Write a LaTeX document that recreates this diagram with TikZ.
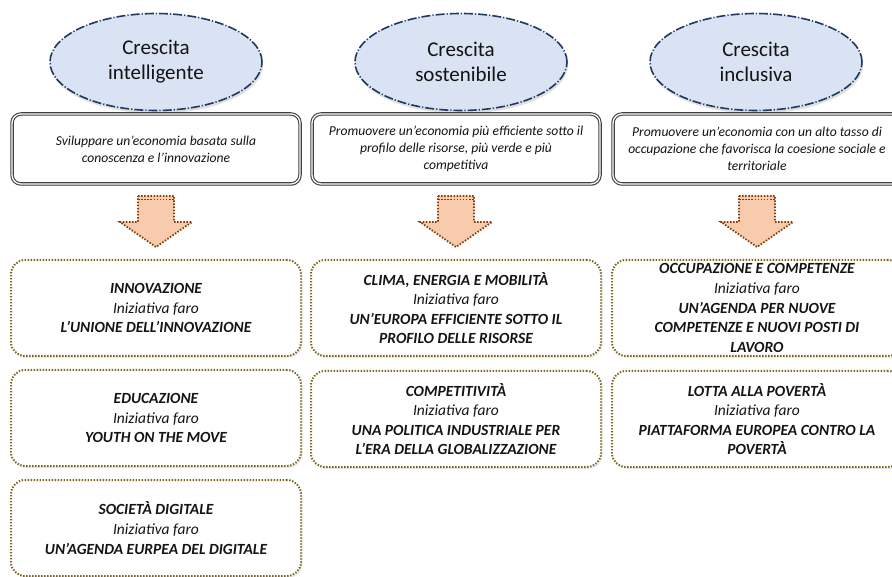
\documentclass[tikz,border=0pt]{standalone}
\usepackage{fontspec}
\setmainfont{Carlito}
\usetikzlibrary{shapes.geometric,shadows}
\definecolor{navy}{RGB}{31,56,100}
\definecolor{ellblue}{RGB}{218,227,243}
\definecolor{olive}{RGB}{128,100,30}
\definecolor{peach}{RGB}{248,203,173}
\definecolor{rust}{RGB}{132,60,12}
\definecolor{txt}{RGB}{20,20,20}
\begin{document}
\begin{tikzpicture}[x=1pt,y=-1pt,
  goal/.style={ellipse, draw=navy, fill=ellblue, line width=1.6pt,
    dash pattern=on 9pt off 2pt on 1.2pt off 2pt,
    minimum width=212pt, minimum height=97pt, inner sep=0pt, align=center,
    text=txt, font=\fontsize{21}{25}\selectfont,
    drop shadow={opacity=0.25,shadow xshift=1pt,shadow yshift=-3pt}},
  desc/.style={rectangle, rounded corners=9pt, draw=black!75, double=white,
    double distance=1.3pt, line width=1.1pt, fill=white,
    minimum width=288pt, minimum height=70pt, inner sep=0pt, align=center,
    text=txt, font=\fontsize{13.6}{17}\selectfont\itshape,
    drop shadow={opacity=0.2,shadow xshift=1.5pt,shadow yshift=-2pt}},
  ini/.style={rectangle, rounded corners=14pt, draw=olive, line width=2pt,
    dash pattern=on 1.4pt off 1.6pt, fill=white,
    minimum width=290pt, minimum height=96pt, inner sep=0pt, align=center,
    text=txt, font=\fontsize{15.5}{19.6}\selectfont,
    drop shadow={opacity=0.15,shadow xshift=1.5pt,shadow yshift=-2pt}},
  bigarrow/.style={fill=peach, draw=rust, line width=1.8pt,
    dash pattern=on 1.5pt off 1.6pt, line join=miter},
]
\useasboundingbox[fill=white] (0,0) rectangle (892,577);

% goals
\node[goal] (g1) at (156,62) {Crescita\\intelligente};
\node[goal] (g2) at (461,62) {Crescita\\sostenibile};
\node[goal] (g3) at (756,62) {Crescita\\inclusiva};

% descriptions
\node[desc] (d1) at (156,149) {Sviluppare un’economia basata sulla\\conoscenza e l’innovazione};
\node[desc] (d2) at (456,149) {Promuovere un’economia più efficiente sotto il\\profilo delle risorse, più verde e più\\competitiva};
\node[desc] (d3) at (757,149) {Promuovere un’economia con un alto tasso di\\occupazione che favorisca la coesione sociale e\\territoriale};

% block arrows
\foreach \cx/\nm in {156/a1,456/a2,757/a3}{
  \coordinate (\nm) at (\cx,196);
  \draw[bigarrow] (\cx-18,196) -- (\cx+18,196) -- (\cx+18,222) -- (\cx+36,222)
    -- (\cx,247) -- (\cx-36,222) -- (\cx-18,222) -- cycle;
  \draw[rust, line width=1.8pt, dash pattern=on 1.5pt off 1.6pt] (\cx-18,199.5) -- (\cx+18,199.5);
}

% flagship initiatives
\node[ini] (i11) at (156,308) {{\bfseries\itshape INNOVAZIONE}\\{\itshape Iniziativa faro}\\{\bfseries\itshape L’UNIONE DELL’INNOVAZIONE}};
\node[ini] (i12) at (156,418) {{\bfseries\itshape EDUCAZIONE}\\{\itshape Iniziativa faro}\\{\bfseries\itshape YOUTH ON THE MOVE}};
\node[ini] (i13) at (156,528) {{\bfseries\itshape SOCIETÀ DIGITALE}\\{\itshape Iniziativa faro}\\{\bfseries\itshape UN’AGENDA EURPEA DEL DIGITALE}};

\node[ini] (i21) at (456,308) {{\bfseries\itshape CLIMA, ENERGIA E MOBILITÀ}\\{\itshape Iniziativa faro}\\{\bfseries\itshape UN’EUROPA EFFICIENTE SOTTO IL}\\{\bfseries\itshape PROFILO DELLE RISORSE}};
\node[ini] (i22) at (456,419) {{\bfseries\itshape COMPETITIVITÀ}\\{\itshape Iniziativa faro}\\{\bfseries\itshape UNA POLITICA INDUSTRIALE PER}\\{\bfseries\itshape L’ERA DELLA GLOBALIZZAZIONE}};

\node[ini] (i31) at (757,308) {{\bfseries\itshape OCCUPAZIONE E COMPETENZE}\\{\itshape Iniziativa faro}\\{\bfseries\itshape UN’AGENDA PER NUOVE}\\{\bfseries\itshape COMPETENZE E NUOVI POSTI DI}\\{\bfseries\itshape LAVORO}};
\node[ini] (i32) at (757,419) {{\bfseries\itshape LOTTA ALLA POVERTÀ}\\{\itshape Iniziativa faro}\\{\bfseries\itshape PIATTAFORMA EUROPEA CONTRO LA}\\{\bfseries\itshape POVERTÀ}};
\end{tikzpicture}
\end{document}
